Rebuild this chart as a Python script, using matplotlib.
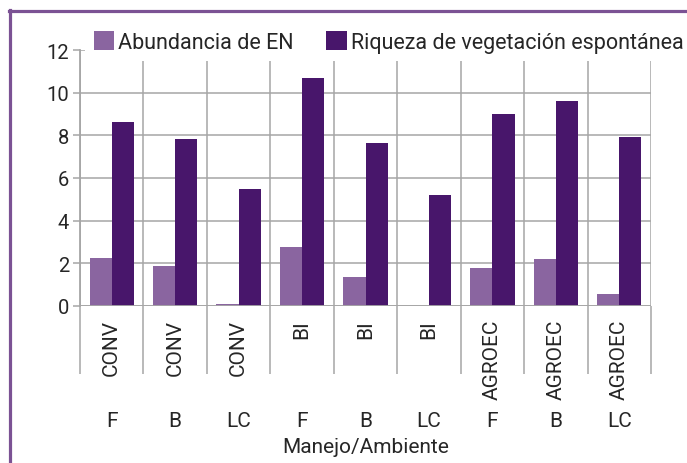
import matplotlib.pyplot as plt
import numpy as np
from matplotlib.lines import Line2D

plt.rcParams['font.family'] = ['Roboto', 'DejaVu Sans']

manejo = ['CONV', 'CONV', 'CONV', 'BI', 'BI', 'BI', 'AGROEC', 'AGROEC', 'AGROEC']
ambiente = ['F', 'B', 'LC', 'F', 'B', 'LC', 'F', 'B', 'LC']
abundancia = [2.25, 1.87, 0.1, 2.76, 1.36, 0.0, 1.78, 2.2, 0.56]
riqueza = [8.62, 7.82, 5.48, 10.68, 7.63, 5.2, 9.0, 9.6, 7.9]

c_light = '#8A65A0'
c_dark = '#48166B'
c_grid = '#A6A6A6'
c_text = '#262626'

fig = plt.figure(figsize=(6.87, 4.64), dpi=100)
W, H = 687, 464
ax = fig.add_axes([80 / W, 1 - 307 / H, (651 - 80) / W, (307 - 51) / H])

x = np.arange(len(ambiente))
w = 0.35
ax.bar(x - w / 2, abundancia, w, color=c_light, label='Abundancia de EN', zorder=3)
ax.bar(x + w / 2, riqueza, w, color=c_dark, label='Riqueza de vegetación espontánea', zorder=3)

ax.set_xlim(-0.5, len(ambiente) - 0.5)
ax.set_ylim(0, 12)
ax.set_yticks(range(0, 13, 2))
ax.tick_params(axis='y', labelsize=14.5, colors=c_grid, labelcolor=c_text, length=5, width=1.1, pad=3)

# vertical separators between categories, extending below the axis
bounds = np.arange(-0.5, len(ambiente), 1.0)
ax.set_xticks(bounds)
ax.set_xticklabels([])
ax.tick_params(axis='x', length=49, width=1.1, colors=c_grid, direction='out')
ax.grid(True, color=c_grid, linewidth=1.1, zorder=0)
for s in ax.spines.values():
    s.set_visible(False)
ax.axhline(0, color=c_grid, linewidth=1.3, zorder=4)
ax.axvline(-0.5, color=c_grid, linewidth=1.3, zorder=4, clip_on=False)

for i in x:
    ax.text(i, -0.6, manejo[i], rotation=90, ha='center', va='top', fontsize=15, color=c_text)
    ax.text(i, -5.35, ambiente[i], ha='center', va='center', fontsize=15, color=c_text)
ax.text(4, -6.6, 'Manejo/Ambiente', ha='center', va='center', fontsize=15, color=c_text)

leg = ax.legend(loc='center left', bbox_to_anchor=(5 / 571, 1 + 8 / 256), ncol=2,
                fontsize=15.5, frameon=True, facecolor='white', edgecolor='none', framealpha=1,
                handlelength=0.95, handleheight=0.95, handletextpad=0.2, columnspacing=1.5,
                borderpad=0.4, borderaxespad=0)
for t in leg.get_texts():
    t.set_color(c_text)
leg.set_zorder(5)

# outer purple frame (left and top)
border = '#7B5294'
fig.add_artist(Line2D([9.5 / W, 9.5 / W], [0, 1 - 11 / H], color=border, linewidth=2.3))
fig.add_artist(Line2D([8.5 / W, 1], [1 - 12 / H, 1 - 12 / H], color=border, linewidth=2.3))

fig.savefig('out.png', dpi=100)
